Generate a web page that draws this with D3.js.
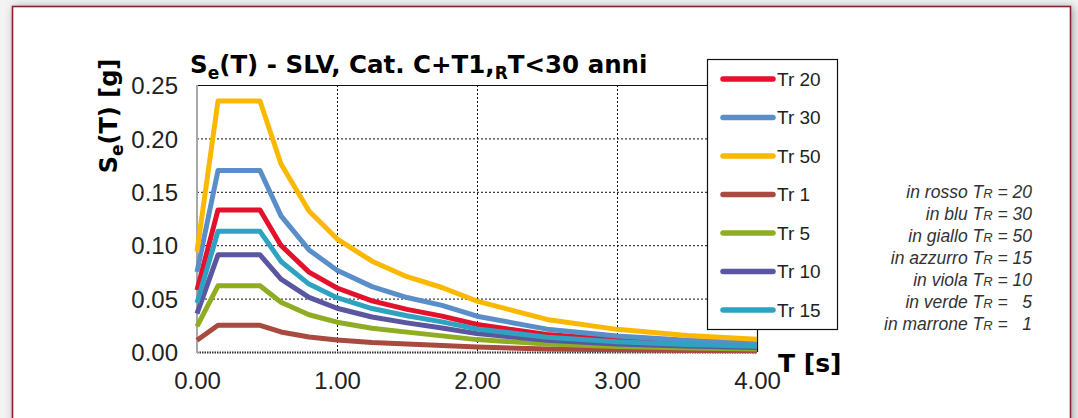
<!DOCTYPE html>
<html>
<head>
<meta charset="utf-8">
<script src="https://cdn.jsdelivr.net/npm/d3@7"></script>
<style>
  body { margin: 0; background: #f3f3f3; }
  svg { display: block; }
  text { font-family: "Liberation Sans", Arial, sans-serif; }
  .bold { font-family: "DejaVu Sans", sans-serif; font-weight: bold; }
</style>
</head>
<body>
<script>
// periods T [s] where the curves were read
var periods = [0, 0.15, 0.45, 0.6, 0.8, 1.0, 1.25, 1.5, 1.75, 2.0, 2.5, 3.0, 3.5, 4.0];

// Se(T) [g], one array per return period
var tr20 = [0.058, 0.133, 0.133, 0.0998, 0.0748, 0.0599, 0.0479, 0.0399, 0.0336, 0.0257, 0.0165, 0.0114, 0.0084, 0.0064];
var tr30 = [0.075, 0.170, 0.170, 0.1275, 0.0956, 0.0765, 0.0612, 0.0510, 0.0437, 0.0335, 0.0214, 0.0149, 0.0109, 0.0084];
var tr50 = [0.094, 0.235, 0.235, 0.1760, 0.1320, 0.1060, 0.0850, 0.0705, 0.0604, 0.0476, 0.0305, 0.0212, 0.0155, 0.0119];
var tr1  = [0.011, 0.025, 0.025, 0.0188, 0.0141, 0.0113, 0.0090, 0.0075, 0.0060, 0.0046, 0.0029, 0.0020, 0.0015, 0.0011];
var tr5  = [0.024, 0.062, 0.062, 0.0465, 0.0349, 0.0279, 0.0223, 0.0186, 0.0151, 0.0116, 0.0074, 0.0051, 0.0038, 0.0029];
var tr10 = [0.036, 0.091, 0.091, 0.0683, 0.0512, 0.0410, 0.0328, 0.0273, 0.0225, 0.0172, 0.0110, 0.0076, 0.0056, 0.0043];
var tr15 = [0.046, 0.113, 0.113, 0.0848, 0.0636, 0.0509, 0.0407, 0.0339, 0.0282, 0.0216, 0.0138, 0.0096, 0.0071, 0.0054];

var seriesNames  = ["Tr 20", "Tr 30", "Tr 50", "Tr 1", "Tr 5", "Tr 10", "Tr 15"];
var seriesValues = [tr20, tr30, tr50, tr1, tr5, tr10, tr15];
var seriesColors = ["#e3112c", "#5a8ec9", "#fbb800", "#a84a40", "#8fad22", "#5a569f", "#2ea2c0"];

var xTicks = [0, 1, 2, 3, 4];
var yTicks = [0, 0.05, 0.10, 0.15, 0.20, 0.25];

// note on the right
var noteColors = ["rosso", "blu", "giallo", "azzurro", "viola", "verde", "marrone"];
var noteTr     = ["20", "30", "50", "15", "10", "  5", "  1"];

var W = 1078, H = 418;
var svg = d3.select("body").append("svg")
    .attr("width", W)
    .attr("height", H);

// soft shadow + framed card
var defs = svg.append("defs");
var f = defs.append("filter").attr("id", "sh")
    .attr("x", "-5%").attr("y", "-5%").attr("width", "110%").attr("height", "120%");
f.append("feGaussianBlur").attr("in", "SourceAlpha").attr("stdDeviation", 5);
f.append("feOffset").attr("dx", 2).attr("dy", 1);
f.append("feComponentTransfer").append("feFuncA").attr("type", "linear").attr("slope", 0.35);
var fm = f.append("feMerge");
fm.append("feMergeNode");
fm.append("feMergeNode").attr("in", "SourceGraphic");

svg.append("rect")
    .attr("x", 12.5).attr("y", 6.5)
    .attr("width", 1058).attr("height", 430)
    .attr("fill", "#fff")
    .attr("stroke", "#86222e")
    .attr("stroke-width", 1.6)
    .attr("filter", "url(#sh)");

// plot area
var x = d3.scaleLinear().domain([0, 4]).range([197, 757]);
var y = d3.scaleLinear().domain([0, 0.25]).range([352, 85]);

var g = svg.append("g");

// grid
g.selectAll("line.hg")
    .data(yTicks.filter(function(d) { return d > 0 && d < 0.25; }))
    .enter().append("line")
    .attr("x1", x(0)).attr("x2", 707)
    .attr("y1", function(d) { return y(d) + 0.5; })
    .attr("y2", function(d) { return y(d) + 0.5; })
    .attr("stroke", "#111").attr("stroke-width", 1)
    .attr("stroke-dasharray", "2,2");

g.selectAll("line.vg")
    .data(xTicks.filter(function(d) { return d > 0 && d < 4; }))
    .enter().append("line")
    .attr("x1", function(d) { return x(d) + 0.5; })
    .attr("x2", function(d) { return x(d) + 0.5; })
    .attr("y1", y(0.25)).attr("y2", y(0))
    .attr("stroke", "#111").attr("stroke-width", 1)
    .attr("stroke-dasharray", "2,2");

// top and right border
g.append("line")
    .attr("x1", x(0)).attr("x2", 707)
    .attr("y1", y(0.25) + 0.5).attr("y2", y(0.25) + 0.5)
    .attr("stroke", "#111").attr("stroke-width", 1.2);
g.append("line")
    .attr("x1", x(4) + 0.5).attr("x2", x(4) + 0.5)
    .attr("y1", 330).attr("y2", y(0))
    .attr("stroke", "#111").attr("stroke-width", 1.2);

// bottom axis (dotted, dark) and left axis (grey)
g.append("line")
    .attr("x1", x(0)).attr("x2", x(4))
    .attr("y1", y(0) + 0.5).attr("y2", y(0) + 0.5)
    .attr("stroke", "#333").attr("stroke-width", 2.2)
    .attr("stroke-dasharray", "1.5,1");
g.append("line")
    .attr("x1", x(0)).attr("x2", x(0))
    .attr("y1", y(0.25)).attr("y2", y(0) + 1)
    .attr("stroke", "#a8a8a8").attr("stroke-width", 2);

// tick labels through d3 axes, domain and ticks hidden
var xAxis = g.append("g")
    .attr("transform", "translate(0," + (y(0) + 17) + ")")
    .call(d3.axisBottom(x).tickValues(xTicks).tickFormat(d3.format(".2f")).tickSize(0));
var yAxis = g.append("g")
    .attr("transform", "translate(" + (x(0) - 16) + ",0)")
    .call(d3.axisLeft(y).tickValues(yTicks).tickFormat(d3.format(".2f")).tickSize(0));
[xAxis, yAxis].forEach(function(a) {
    a.select(".domain").remove();
    a.selectAll("text")
        .attr("fill", "#222")
        .style("font-family", "'Liberation Sans', Arial, sans-serif")
        .style("font-size", "24px");
});
xAxis.selectAll("text").attr("dy", "0.71em");
yAxis.selectAll("text").attr("dy", "0.36em");

// curves
var line = d3.line()
    .x(function(d, i) { return x(periods[i]); })
    .y(function(d) { return y(d); });

g.selectAll("path.curve")
    .data(seriesValues)
    .enter().append("path")
    .attr("class", "curve")
    .attr("d", line)
    .attr("fill", "none")
    .attr("stroke", function(d, i) { return seriesColors[i]; })
    .attr("stroke-width", 5)
    .attr("stroke-linejoin", "round");

// legend
var lg = svg.append("g");
lg.append("rect")
    .attr("x", 707.5).attr("y", 59.5)
    .attr("width", 130).attr("height", 270)
    .attr("fill", "#fff")
    .attr("stroke", "#111").attr("stroke-width", 1.2);
var items = lg.selectAll("g.item")
    .data(seriesNames)
    .enter().append("g")
    .attr("transform", function(d, i) { return "translate(0," + (79 + i * 38.5) + ")"; });
items.append("line")
    .attr("x1", 723).attr("x2", 773)
    .attr("stroke", function(d, i) { return seriesColors[i]; })
    .attr("stroke-width", 5.5)
    .attr("stroke-linecap", "round");
items.append("text")
    .attr("x", 777).attr("dy", "0.36em")
    .attr("fill", "#222")
    .style("font-size", "19px")
    .text(function(d) { return d; });

// title
var title = svg.append("text")
    .attr("class", "bold")
    .attr("x", 190).attr("y", 73)
    .attr("fill", "#000")
    .style("font-size", "24.5px");
title.append("tspan").text("S");
title.append("tspan").attr("dy", 6).style("font-size", "17px").text("e");
title.append("tspan").attr("dy", -6).text("(T) - SLV, Cat. C+T1,");
title.append("tspan").attr("dy", 6).style("font-size", "17px").text("R");
title.append("tspan").attr("dy", -6).text("T<30 anni");

// y axis title
var yt = svg.append("text")
    .attr("class", "bold")
    .attr("transform", "translate(117,116) rotate(-90)")
    .attr("text-anchor", "middle")
    .attr("fill", "#000")
    .style("font-size", "24px");
yt.append("tspan").text("S");
yt.append("tspan").attr("dy", 6).style("font-size", "17px").text("e");
yt.append("tspan").attr("dy", -6).text("(T) [g]");

// x axis title
svg.append("text")
    .attr("class", "bold")
    .attr("x", 778).attr("y", 372)
    .attr("fill", "#000")
    .style("font-size", "25px")
    .text("T [s]");

// note
var notes = svg.append("g");
noteColors.forEach(function(c, i) {
    var t = notes.append("text")
        .attr("x", 1032).attr("y", 192 + i * 22)
        .attr("dy", "0.36em")
        .attr("text-anchor", "end")
        .attr("fill", "#333")
        .style("font-size", "17.5px")
        .style("font-style", "italic")
        .style("white-space", "pre");
    t.append("tspan").text("in " + c + " T");
    t.append("tspan").style("font-size", "13px").text("R");
    t.append("tspan").text(" = " + noteTr[i]);
});
</script>
</body>
</html>
